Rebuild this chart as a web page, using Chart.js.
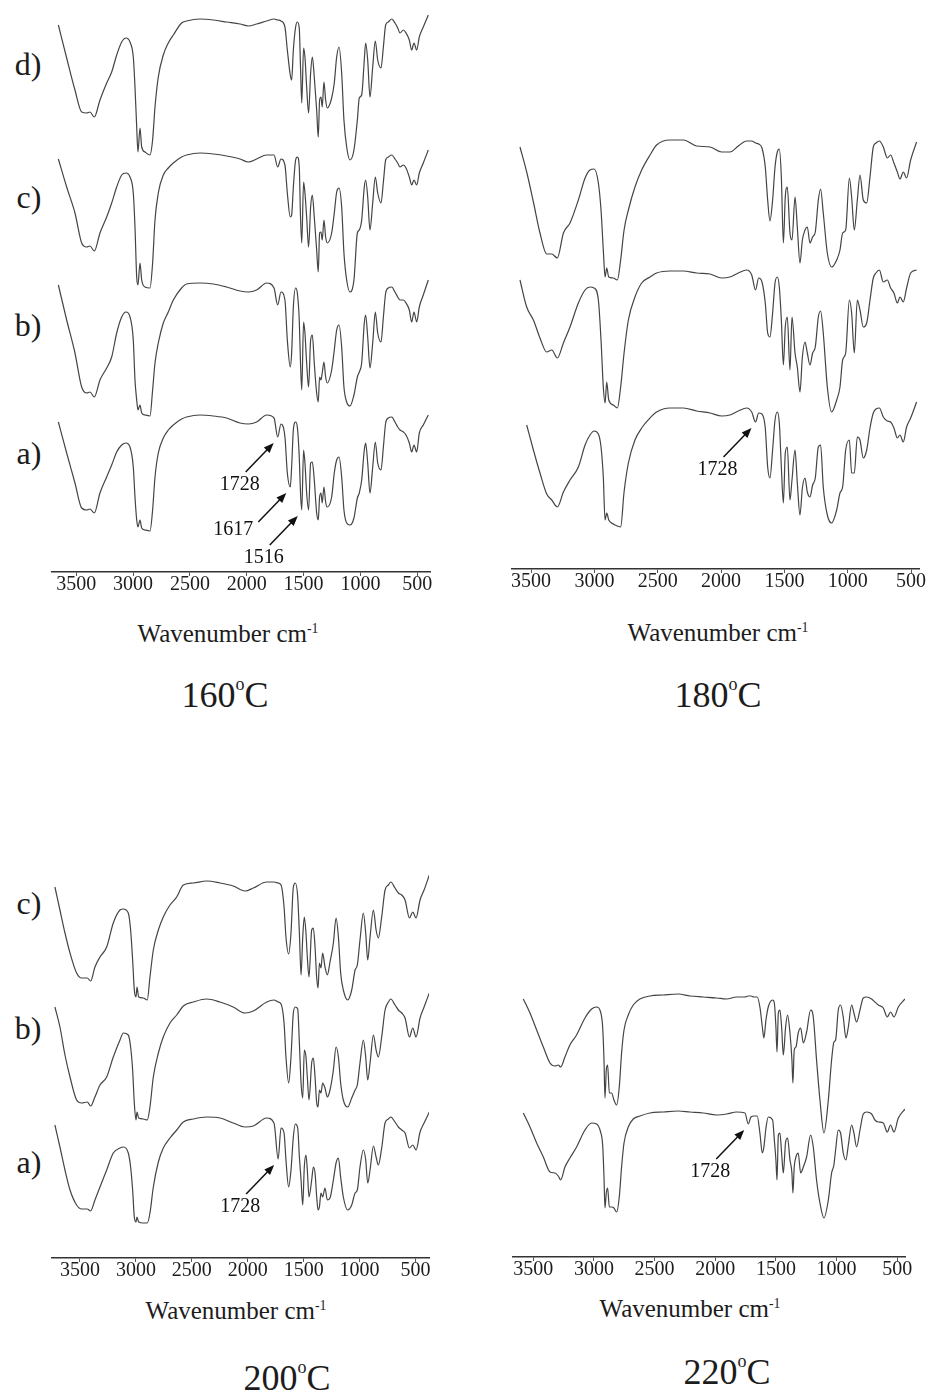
<!DOCTYPE html>
<html>
<head>
<meta charset="utf-8">
<title>FTIR spectra</title>
<script src="https://cdn.jsdelivr.net/npm/chart.js@4.4.1/dist/chart.umd.min.js"></script>
<style>
body{margin:0;background:#fff;width:930px;height:1394px;position:relative;overflow:hidden;
  font-family:"Liberation Serif","Times New Roman",serif;color:#1c1c1c}
canvas{position:absolute}
.lbl{position:absolute;transform:translate(-50%,-50%);line-height:1;white-space:nowrap}
.trace{font-size:32px}
.axis{font-size:25px}
.temp{font-size:36px}
.sup{font-size:0.55em;position:relative;top:-0.65em}
.deg{font-size:0.5em;position:relative;top:-0.95em}
</style>
</head>
<body>

<!-- trace labels -->
<div class="lbl trace" style="left:28px;top:64px">d)</div>
<div class="lbl trace" style="left:29px;top:197px">c)</div>
<div class="lbl trace" style="left:28px;top:325px">b)</div>
<div class="lbl trace" style="left:29px;top:453px">a)</div>
<div class="lbl trace" style="left:29px;top:903px">c)</div>
<div class="lbl trace" style="left:28px;top:1028px">b)</div>
<div class="lbl trace" style="left:29px;top:1162px">a)</div>

<!-- axis titles and temperatures -->
<div class="lbl axis" style="left:228px;top:633px">Wavenumber cm<span class="sup">-1</span></div>
<div class="lbl axis" style="left:718px;top:632px">Wavenumber cm<span class="sup">-1</span></div>
<div class="lbl axis" style="left:236px;top:1310px">Wavenumber cm<span class="sup">-1</span></div>
<div class="lbl axis" style="left:690px;top:1308px">Wavenumber cm<span class="sup">-1</span></div>
<div class="lbl temp" style="left:225px;top:695px">160<span class="deg">o</span>C</div>
<div class="lbl temp" style="left:718px;top:695px">180<span class="deg">o</span>C</div>
<div class="lbl temp" style="left:287px;top:1378px">200<span class="deg">o</span>C</div>
<div class="lbl temp" style="left:727px;top:1372px">220<span class="deg">o</span>C</div>

<script>
// tick labels on every wavenumber axis
const ticksWn = [3500, 3000, 2500, 2000, 1500, 1000, 500];

// ---- 160 C : wavenumbers and transmittance of d, c, b, a ----
const wn160 = [3657,3584,3511,3452,3408,3379,3341,3291,3232,3188,
  3144,3100,3062,3027,2998,2983,2968,2957,2939,2924,
  2895,2851,2828,2807,2778,2734,2690,2646,2573,2529,
  2411,2294,2177,2059,1986,1913,1825,1760,1728,1699,
  1664,1643,1617,1605,1590,1570,1555,1538,1527,1516,
  1500,1488,1473,1456,1438,1423,1406,1385,1371,1359,
  1347,1336,1321,1306,1292,1253,1230,1209,1188,1165,
  1145,1121,1092,1057,1027,1010,989,966,954,936,
  916,892,869,848,819,798,778,755,725,696,
  672,652,622,599,570,549,529,505,482,447,
  403];
const d160 = [140,107,75,53,52,53,48,65,82,93,
  110,123,127,123,108,78,38,13,37,18,
  13,10,25,58,88,110,122,130,142,144,
  146,145,143,141,139,141,144,146,145,144,
  138,115,90,85,115,138,143,137,98,62,
  117,108,78,52,92,108,88,55,28,65,
  68,58,83,65,57,67,82,108,118,92,
  45,18,5,15,45,67,70,105,122,105,
  68,98,124,105,97,118,140,143,146,142,
  137,132,135,132,125,115,122,115,128,138,
  150];
const c160 = [137,109,83,53,49,50,45,63,79,93,
  109,121,123,119,103,69,19,11,33,16,
  9,8,33,76,103,121,128,133,139,141,
  143,142,140,137,134,137,141,141,129,137,
  131,103,79,81,109,136,139,129,79,53,
  114,103,79,49,89,101,79,46,24,63,
  64,56,76,59,53,63,83,104,108,89,
  43,16,4,16,63,66,76,109,116,99,
  66,93,119,103,93,114,136,139,141,137,
  133,129,131,128,119,111,116,111,123,133,
  146];
const b160 = [135,100,67,33,27,28,23,40,52,63,
  87,103,108,103,80,40,20,10,15,7,
  5,4,30,57,77,97,108,120,132,136,
  137,136,133,129,128,130,137,132,115,128,
  120,80,53,67,113,132,127,100,57,30,
  98,87,57,33,80,85,57,27,18,43,
  40,47,58,43,37,50,70,90,95,73,
  33,18,14,25,43,48,57,97,105,83,
  52,77,108,87,78,103,127,132,133,128,
  123,120,120,117,110,98,108,98,113,125,
  140];
const a160 = [113,82,52,27,25,26,22,42,58,70,
  83,90,92,88,68,38,15,8,15,7,
  5,4,25,58,82,97,105,110,116,118,
  120,119,117,112,111,113,120,117,98,111,
  98,62,48,68,105,113,108,78,42,25,
  85,72,42,25,72,73,55,22,15,38,
  42,32,48,33,28,38,62,75,78,58,
  25,12,10,17,37,42,55,85,92,72,
  42,68,93,72,65,88,112,117,118,113,
  108,105,103,100,92,83,90,83,102,110,
  120];

// ---- 180 C ----
const wn180 = [3588,3535,3482,3430,3377,3337,3293,3245,3193,3127,
  3074,3035,3003,2969,2948,2930,2916,2903,2887,2851,
  2819,2793,2766,2732,2680,2627,2561,2509,2403,2298,
  2193,2087,1995,1930,1864,1798,1758,1728,1703,1677,
  1651,1632,1614,1593,1574,1556,1540,1524,1508,1493,
  1477,1456,1440,1416,1398,1377,1358,1337,1319,1298,
  1277,1256,1232,1214,1193,1161,1127,1087,1061,1040,
  1016,987,969,948,924,903,877,850,824,798,
  777,750,719,687,661,635,608,587,561,535,
  503,456];
const c180 = [138,113,83,52,31,31,27,52,62,85,
  107,115,116,102,75,35,8,17,8,7,
  5,25,55,75,98,115,130,140,145,145,
  139,138,133,133,139,144,144,142,141,137,
  118,85,64,85,118,133,136,108,42,88,
  98,52,45,88,58,22,45,55,58,42,
  48,53,85,96,72,32,18,25,35,52,
  55,107,88,55,85,110,85,82,108,138,
  142,144,138,127,130,122,113,106,113,107,
  125,143];
const b180 = [135,108,95,77,63,65,57,72,88,112,
  125,128,127,115,75,28,12,33,15,10,
  7,28,62,95,118,132,138,142,144,144,
  142,141,137,138,142,145,140,125,137,133,
  112,82,78,102,132,138,128,95,50,88,
  98,45,98,62,48,23,58,73,62,50,
  62,68,98,104,82,28,3,15,28,55,
  62,115,102,62,115,105,88,92,115,137,
  142,145,133,135,127,122,112,118,113,127,
  142,145];
const a180 = [null,105,80,57,36,30,23,38,50,63,
  85,95,99,96,83,53,10,17,10,6,
  4,3,38,67,90,102,112,118,122,122,
  119,117,114,115,119,122,118,108,117,116,
  102,63,52,80,110,118,107,63,27,77,
  83,30,50,80,47,15,42,52,38,33,
  45,52,83,85,43,15,7,20,37,43,
  80,90,57,57,93,90,72,80,102,117,
  121,122,113,109,108,102,92,95,88,103,
  112,128];

// ---- 200 C ----
const wn200 = [3724,3679,3634,3589,3530,3485,3434,3405,3366,3321,
  3261,3202,3142,3112,3068,3047,3029,3014,2999,2990,
  2975,2934,2898,2874,2844,2799,2755,2695,2635,2576,
  2486,2367,2248,2130,2024,1950,1830,1765,1728,1702,
  1675,1658,1634,1613,1592,1574,1553,1538,1523,1508,
  1494,1479,1467,1452,1428,1413,1398,1383,1371,1359,
  1345,1330,1309,1288,1264,1234,1210,1189,1169,1145,
  1106,1070,1040,1020,996,966,945,927,906,876,
  852,832,802,772,742,721,683,653,623,593,
  554,524,495,459,423,376];
const c200 = [116,93,70,50,30,25,25,22,36,46,
  56,80,93,94,90,73,43,13,6,16,
  6,5,3,26,53,73,86,98,106,118,
  120,122,120,117,112,115,121,121,120,118,
  96,66,49,70,116,120,106,70,28,66,
  86,70,46,26,73,75,56,25,15,40,
  35,50,36,28,41,60,85,66,30,13,
  3,13,33,38,63,90,70,43,66,93,
  73,65,86,113,118,121,115,110,108,103,
  85,91,85,103,113,128];
const b200 = [116,96,68,46,23,20,21,17,26,38,
  46,66,83,90,88,76,53,20,3,11,
  5,4,3,16,46,70,86,100,108,117,
  121,124,121,116,110,112,121,123,121,119,
  100,66,40,66,110,116,114,80,40,25,
  73,66,46,23,60,65,46,20,16,33,
  30,40,35,26,33,53,76,66,40,23,
  16,25,33,38,60,83,66,43,60,88,
  73,66,86,113,121,124,118,113,110,105,
  86,95,86,105,116,130];
const a200 = [101,79,56,36,21,17,17,15,26,39,
  56,73,78,79,73,59,36,9,4,9,
  4,3,3,13,39,64,78,88,96,104,
  107,109,108,103,99,100,108,103,67,98,
  93,66,39,56,89,102,98,69,46,21,
  59,71,56,29,46,59,53,29,16,19,
  33,29,38,26,28,46,63,68,49,29,
  16,21,33,36,59,76,66,43,56,80,
  69,61,78,103,107,109,104,99,96,93,
  78,81,76,94,103,114];

// ---- 220 C ----
const wn220 = [3582,3527,3472,3417,3362,3321,3294,3274,3239,3198,
  3143,3074,3019,2978,2945,2928,2917,2909,2898,2887,
  2873,2854,2835,2813,2791,2772,2752,2717,2676,2621,
  2538,2428,2305,2208,2099,1989,1906,1824,1755,1728,
  1706,1681,1654,1632,1612,1599,1582,1563,1527,1513,
  1500,1491,1480,1467,1453,1439,1420,1404,1384,1368,
  1360,1349,1335,1316,1296,1274,1247,1214,1192,1165,
  1137,1104,1068,1041,1022,1008,986,967,945,923,
  903,876,857,835,807,780,752,711,684,656,
  615,582,555,527,491,436];
const b220 = [137,123,106,89,73,70,71,69,79,91,
  101,118,127,129,124,109,76,38,66,71,
  43,43,36,31,49,83,106,121,131,137,
  140,141,142,140,139,138,137,139,139,140,
  140,139,139,129,109,98,116,129,136,133,
  109,84,123,126,109,81,109,121,103,76,
  53,86,89,103,108,93,104,126,119,76,
  36,3,36,76,94,96,126,131,119,98,
  109,131,123,114,126,138,139,137,134,131,
  128,119,124,119,129,137];
const a220 = [108,94,78,64,49,48,45,41,54,63,
  74,91,98,97,89,76,44,13,28,33,
  14,14,13,9,24,54,78,94,102,105,
  108,109,110,109,108,106,107,109,108,97,
  104,105,105,88,68,74,93,104,101,81,
  61,41,86,88,68,48,79,83,61,48,
  28,54,64,68,48,54,64,86,74,41,
  18,3,21,48,56,71,91,88,68,61,
  76,96,88,74,91,107,109,107,101,99,
  98,89,96,89,103,112];

const PAD = 25;     // room for the end tick labels
const AXIS_H = 40;  // height of the wavenumber axis

// one block per temperature; traces listed top to bottom with their vertical shift
const panels = [
  {left: 52, right: 430, top: 5, axisY: 572, xmin: 388, xmax: 3713, wn: wn160,
   traces: [{v: d160, off: 407}, {v: c160, off: 276}, {v: b160, off: 152}, {v: a160, off: 37}],
   notes: [{text: '1728', trace: 3}, {text: '1617', trace: 3, side: 'left'}, {text: '1516', trace: 3}]},
  {left: 512, right: 919, top: 120, axisY: 569, xmin: 437, xmax: 3651, wn: wn180,
   traces: [{v: c180, off: 284}, {v: b180, off: 154}, {v: a180, off: 39}],
   notes: [{text: '1728', trace: 2}]},
  {left: 52, right: 429, top: 860, axisY: 1258, xmin: 379, xmax: 3750, wn: wn200,
   traces: [{v: c200, off: 255}, {v: b200, off: 135}, {v: a200, off: 32}],
   notes: [{text: '1728', trace: 2}]},
  {left: 513, right: 905, top: 980, axisY: 1257, xmin: 436, xmax: 3667, wn: wn220,
   traces: [{v: b220, off: 121}, {v: a220, off: 36}],
   notes: [{text: '1728', trace: 1}]}
];

// arrows pointing at marked bands
function notesPlugin(p) {
  return {
    id: 'notes',
    afterDatasetsDraw(chart) {
      const ctx = chart.ctx, xs = chart.scales.x, ys = chart.scales.y;
      ctx.save();
      ctx.strokeStyle = '#111';
      ctx.fillStyle = '#111';
      ctx.lineWidth = 1.5;
      ctx.font = '20px "Liberation Serif"';
      ctx.textAlign = 'center';
      ctx.textBaseline = 'middle';
      p.notes.forEach(n => {
        const w = Number(n.text);
        const t = p.traces[n.trace];
        const i = p.wn.indexOf(w);
        const tx = xs.getPixelForValue(w) - 4;
        const ty = ys.getPixelForValue(t.v[i] + t.off) + 6;
        const sx = tx - 28, sy = ty + 29;
        const ang = Math.atan2(ty - sy, tx - sx);
        const c = Math.cos(ang), s = Math.sin(ang);
        ctx.beginPath();
        ctx.moveTo(sx, sy);
        ctx.lineTo(tx - 7 * c, ty - 7 * s);
        ctx.stroke();
        ctx.beginPath();
        ctx.moveTo(tx, ty);
        ctx.lineTo(tx - 10 * c + 4 * s, ty - 10 * s - 4 * c);
        ctx.lineTo(tx - 10 * c - 4 * s, ty - 10 * s + 4 * c);
        ctx.closePath();
        ctx.fill();
        if (n.side === 'left') ctx.fillText(n.text, sx - 25, sy + 8);
        else ctx.fillText(n.text, sx - 6, sy + 13);
      });
      ctx.restore();
    }
  };
}

function buildPanel(p) {
  const cv = document.createElement('canvas');
  const yMax = p.axisY - p.top;
  cv.width = p.right - p.left + 2 * PAD;
  cv.height = yMax + AXIS_H;
  cv.style.left = (p.left - PAD) + 'px';
  cv.style.top = p.top + 'px';
  document.body.appendChild(cv);

  new Chart(cv, {
    type: 'line',
    data: {
      datasets: p.traces.map(t => ({
        data: p.wn.map((w, i) => ({x: w, y: t.v[i] == null ? null : t.v[i] + t.off})),
        borderColor: '#444',
        borderWidth: 1.2,
        pointRadius: 0,
        cubicInterpolationMode: 'monotone',
        fill: false
      }))
    },
    options: {
      responsive: false,
      animation: false,
      events: [],
      layout: {padding: {left: PAD, right: PAD, top: 0, bottom: 0}, autoPadding: false},
      plugins: {legend: {display: false}, tooltip: {enabled: false}},
      scales: {
        x: {
          type: 'linear',
          reverse: true,
          min: p.xmin,
          max: p.xmax,
          afterBuildTicks: sc => { sc.ticks = ticksWn.map(v => ({value: v})); },
          afterFit: sc => { sc.height = AXIS_H; },
          border: {display: true, color: '#333', width: 1.5},
          grid: {drawOnChartArea: false, drawTicks: true, tickLength: 4, color: '#555'},
          ticks: {
            autoSkip: false,
            maxRotation: 0,
            padding: -3,
            color: '#1c1c1c',
            font: {family: 'Liberation Serif', size: 20},
            callback: v => String(v)
          }
        },
        y: {display: false, min: 0, max: yMax}
      }
    },
    plugins: [notesPlugin(p)]
  });
}

panels.forEach(buildPanel);
</script>
</body>
</html>
